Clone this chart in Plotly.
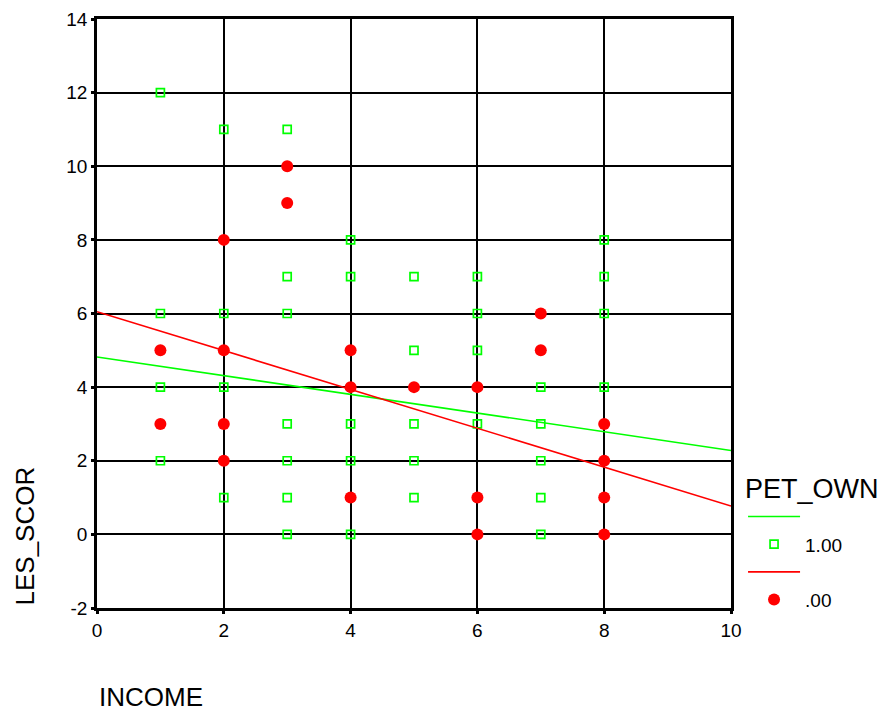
import plotly.graph_objects as go

# Group PET_OWN = 1.00 (green open squares)
own_x = [1, 1, 1, 1,
         2, 2, 2, 2,
         3, 3, 3, 3, 3, 3, 3,
         4, 4, 4, 4, 4,
         5, 5, 5, 5, 5,
         6, 6, 6, 6,
         7, 7, 7, 7, 7,
         8, 8, 8, 8]
own_y = [12, 6, 4, 2,
         11, 6, 4, 1,
         11, 7, 6, 3, 2, 1, 0,
         8, 7, 3, 2, 0,
         7, 5, 3, 2, 1,
         7, 6, 5, 3,
         4, 3, 2, 1, 0,
         8, 7, 6, 4]

# Group PET_OWN = .00 (red dots)
none_x = [1, 1,
          2, 2, 2, 2,
          3, 3,
          4, 4, 4,
          5,
          6, 6, 6,
          7, 7,
          8, 8, 8, 8]
none_y = [5, 3,
          8, 5, 3, 2,
          10, 9,
          5, 4, 1,
          4,
          4, 1, 0,
          6, 5,
          3, 2, 1, 0]

# Fit lines (at INCOME = 0 and 10)
fit_x = [0, 10]
own_fit_y = [4.82, 2.28]
none_fit_y = [6.05, 0.77]

x_ticks = [0, 2, 4, 6, 8, 10]
x_tick_labels = ["0", "2", "4", "6", "8", "10"]
y_ticks = [-2, 0, 2, 4, 6, 8, 10, 12, 14]
y_tick_labels = ["-2", "0", "2", "4", "6", "8", "10", "12", "14"]

GREEN = "#00ff00"
RED = "#ff0000"
FONT = "Liberation Sans, Arial, sans-serif"

fig = go.Figure()
fig.add_trace(go.Scatter(x=fit_x, y=own_fit_y, mode="lines", name=" ",
                         line=dict(color=GREEN, width=1.6), showlegend=True))
fig.add_trace(go.Scatter(x=own_x, y=own_y, mode="markers", name="1.00",
                         marker=dict(symbol="square-open", size=8, color=GREEN,
                                     line=dict(width=1.7, color=GREEN))))
fig.add_trace(go.Scatter(x=fit_x, y=none_fit_y, mode="lines", name=" ",
                         line=dict(color=RED, width=1.6)))
fig.add_trace(go.Scatter(x=none_x, y=none_y, mode="markers", name=".00",
                         marker=dict(symbol="circle", size=12, color=RED)))

axis_common = dict(
    showgrid=True, gridcolor="black", gridwidth=1.6,
    showline=True, linecolor="black", linewidth=2.5, mirror=True,
    ticks="outside", ticklen=3, tickwidth=3, tickcolor="black",
    zeroline=False, automargin=False, ticklabeloverflow="allow",
    tickfont=dict(family=FONT, size=19, color="black"),
)

fig.update_layout(
    width=884, height=703,
    margin=dict(l=89, r=154, t=11, b=103),
    plot_bgcolor="white", paper_bgcolor="white",
    font=dict(family=FONT, color="black"),
    xaxis=dict(range=[0, 10], tickvals=x_ticks, ticktext=x_tick_labels, **axis_common),
    yaxis=dict(range=[-2, 14], tickvals=y_ticks, ticktext=y_tick_labels, **axis_common),
    legend=dict(
        title=dict(text="PET_OWN", font=dict(family=FONT, size=27)),
        font=dict(family=FONT, size=19),
        x=1.019, xanchor="left", y=0.247, yanchor="top",
        itemwidth=52, tracegroupgap=0, bgcolor="rgba(0,0,0,0)",
    ),
    annotations=[
        dict(text="INCOME", xref="paper", yref="paper", x=0, y=0,
             xanchor="left", yanchor="middle", yshift=-89, showarrow=False,
             font=dict(family=FONT, size=26)),
        dict(text="LES_SCOR", xref="paper", yref="paper", x=0, y=0,
             xanchor="center", yanchor="bottom", xshift=-73, textangle=-90,
             showarrow=False, font=dict(family=FONT, size=26)),
    ],
)

fig.write_html("out.html")
